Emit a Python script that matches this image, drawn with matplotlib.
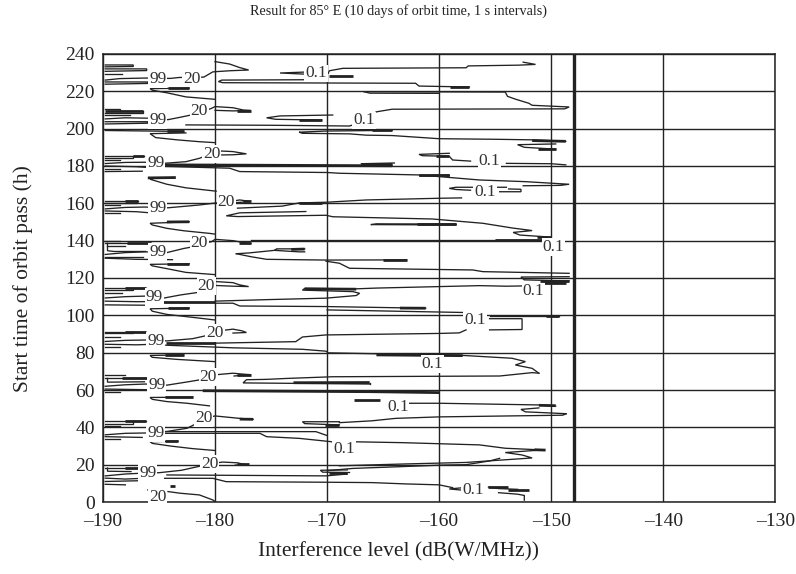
import matplotlib
matplotlib.use("Agg")
import matplotlib.pyplot as plt

plt.rcParams['font.family'] = ['Liberation Serif', 'DejaVu Serif']

# ---------------- data ----------------
x_ticks = [-190, -180, -170, -160, -150, -140, -130]
y_ticks = [0, 20, 40, 60, 80, 100, 120, 140, 160, 180, 200, 220, 240]
limit_x = -148.0

day10 = [
    [(-189.8,234.1),(-187.3,234.1),(-187.3,233.3),(-189.8,233.1)],
    [(-189.8,232.0),(-186.1,232.0),(-186.1,231.1),(-189.8,230.7)],
    [(-189.8,229.4),(-188.3,229.4)],
    [(-189.8,226.0),(-188.5,226.8),(-186.2,227.1),(-184.0,226.9),(-183.2,227.4),(-181.0,227.6),(-180.2,230.4),(-178.7,231.0),(-177.0,231.4),(-177.8,232.7),(-178.7,234.6),(-180.0,235.9)],
    [(-189.8,225.0),(-186.0,225.0),(-186.0,224.2),(-189.8,223.8)],
    [(-182.3,221.7),(-185.8,221.4),(-185.6,220.6),(-184.3,219.2),(-182.6,217.0),(-180.0,215.7)],
    [(-172.0,230.3),(-174.2,229.8),(-172.0,229.2),(-169.9,229.6),(-169.8,231.0),(-168.6,232.3),(-157.6,232.6),(-157.4,233.6),(-152.9,234.0),(-151.4,234.4),(-152.5,235.6)],
    [(-171.5,226.2),(-179.4,226.0),(-179.7,225.2),(-179.3,224.6),(-162.1,224.3),(-161.8,222.8),(-157.3,222.3)],
    [(-166.7,219.8),(-154.1,219.6),(-153.9,217.3),(-153.2,215.8),(-152.0,213.6),(-151.7,212.5),(-148.4,211.6),(-148.8,210.6),(-164.2,210.4),(-165.6,209.0),(-166.6,205.5)],
    [(-166.7,219.8),(-166.2,219.0),(-160.0,218.9)],
]
bold10 = [
    [(-184.2,221.6),(-182.3,221.6)],
    [(-169.8,228.4),(-167.7,228.4)],
    [(-159.0,222.4),(-157.3,222.4)],
]

day9 = [
    [(-189.8,210.3),(-188.5,210.3),(-188.5,209.5)],
    [(-189.8,208.3),(-186.4,208.3),(-186.4,209.2)],
    [(-189.8,207.2),(-187.6,207.2)],
    [(-189.8,205.2),(-188.0,205.8),(-186.0,205.6),(-184.2,204.8),(-183.1,206.1),(-181.9,207.6),(-181.0,209.3),(-180.3,210.9),(-180.0,211.8),(-178.4,211.2),(-177.5,210.0),(-176.8,209.7),(-178.4,209.5),(-180.0,209.8)],
    [(-189.8,203.7),(-186.0,203.7),(-186.0,202.9),(-189.8,202.5)],
    [(-182.6,202.0),(-175.0,201.8),(-168.0,201.4),(-167.2,203.0)],
    [(-169.5,207.3),(-174.2,206.8),(-175.4,205.8),(-174.6,205.0),(-170.5,204.6)],
    [(-189.8,199.0),(-182.8,198.5)],
    [(-182.6,197.7),(-185.8,197.3),(-185.3,195.2),(-183.4,194.0),(-181.4,193.0),(-180.0,192.5)],
    [(-164.2,199.1),(-170.1,198.7),(-172.5,198.1),(-172.2,197.5),(-168.0,197.2),(-166.5,196.5),(-164.2,196.3),(-160.0,194.6),(-155.0,194.3),(-151.7,194.0),(-148.7,193.2)],
    [(-149.6,191.8),(-153.0,191.4),(-152.4,190.0),(-149.6,189.0)],
]
bold9 = [
    [(-189.8,209.2),(-186.4,209.2)],
    [(-178.0,209.6),(-176.8,209.6)],
    [(-172.5,204.8),(-170.5,204.8)],
    [(-184.3,198.5),(-182.8,198.5)],
    [(-166.0,199.1),(-164.2,199.1)],
    [(-151.7,193.6),(-148.7,193.2)],
    [(-151.2,189.0),(-149.6,189.0)],
]

day8 = [
    [(-189.8,185.4),(-186.3,185.4)],
    [(-189.8,184.4),(-187.3,184.4),(-187.3,185.4)],
    [(-189.8,183.0),(-188.5,183.0)],
    [(-189.8,181.3),(-188.0,181.9),(-186.3,182.0),(-184.6,181.4),(-182.6,182.3),(-181.4,184.1),(-180.6,186.0),(-179.4,188.0),(-178.4,187.7),(-177.2,186.5),(-178.4,186.0),(-179.4,185.9)],
    [(-189.8,180.0),(-187.0,179.6),(-186.0,179.2)],
    [(-189.8,178.5),(-188.5,178.5)],
    [(-189.8,177.0),(-186.5,177.2)],
    [(-164.2,180.4),(-167.0,181.2),(-164.0,181.6)],
    [(-184.6,179.8),(-178.7,178.8),(-177.8,177.0),(-170.0,176.5),(-168.9,176.1),(-161.8,175.2),(-156.4,172.5),(-152.3,171.6),(-148.4,170.2),(-149.2,169.6),(-152.5,169.4)],
    [(-159.1,174.6),(-161.8,174.8),(-159.1,175.2)],
    [(-159.1,186.8),(-161.8,186.2),(-161.5,185.5),(-159.1,185.2),(-158.8,183.2),(-157.2,182.6)],
    [(-154.0,181.4),(-150.0,181.2),(-148.7,180.6)],
    [(-154.0,168.6),(-158.5,168.6),(-159.1,168.0),(-158.5,167.4),(-157.2,167.0)],
    [(-154.6,166.2),(-152.7,166.2),(-152.7,167.5),(-153.8,167.7)],
    [(-185.3,173.6),(-185.8,172.9),(-184.3,170.2),(-182.6,168.3),(-179.9,166.5)],
]
bold8 = [
    [(-187.3,185.4),(-186.3,185.4)],
    [(-184.6,180.6),(-164.2,180.1)],
    [(-167.0,181.3),(-164.2,181.3)],
    [(-161.8,175.0),(-159.1,175.0)],
    [(-160.3,185.2),(-159.1,185.2)],
    [(-186.0,173.6),(-183.5,173.8)],
]

day7 = [
    [(-189.8,161.4),(-186.9,161.4)],
    [(-189.8,160.4),(-187.0,160.4),(-187.0,161.4)],
    [(-189.8,159.0),(-188.5,159.0)],
    [(-189.8,157.0),(-188.0,157.8),(-186.3,158.0),(-184.2,157.6),(-181.4,159.1),(-180.2,160.0),(-179.0,160.6),(-177.8,161.8),(-177.2,161.3),(-176.8,160.9),(-177.8,160.5),(-178.3,160.3)],
    [(-189.8,155.9),(-187.0,155.5),(-186.0,155.0)],
    [(-189.8,154.6),(-188.5,154.6)],
    [(-178.0,157.4),(-174.0,158.5),(-172.5,160.2),(-170.0,160.6),(-166.5,161.8),(-160.0,162.7),(-158.0,162.9)],
    [(-171.9,155.6),(-177.8,154.9),(-179.0,153.3),(-178.0,152.9),(-170.1,153.6),(-169.5,152.8),(-160.6,151.6),(-156.1,149.3),(-153.5,146.8),(-151.7,145.4),(-153.4,144.4),(-152.8,143.0),(-150.3,142.0)],
    [(-158.5,148.4),(-166.1,148.6),(-165.6,149.0),(-158.5,148.9)],
    [(-182.3,150.1),(-185.8,149.3),(-185.6,148.4),(-184.3,146.6),(-182.8,145.3),(-180.5,143.9),(-180.0,143.5)],
]
bold7 = [
    [(-188.0,161.4),(-186.9,161.4)],
    [(-177.5,161.0),(-176.8,161.0)],
    [(-172.5,160.4),(-170.5,160.4)],
    [(-151.3,142.0),(-150.0,142.0)],
    [(-162.0,148.7),(-158.5,148.7)],
    [(-184.3,150.0),(-182.3,150.1)],
]

day6 = [
    [(-189.8,140.0),(-188.5,140.0)],
    [(-189.8,138.6),(-185.7,138.6)],
    [(-189.6,138.6),(-189.6,134.6),(-189.0,134.2),(-186.2,134.2)],
    [(-189.6,137.2),(-188.0,137.2)],
    [(-189.8,132.6),(-188.0,133.6),(-186.2,134.0),(-184.3,133.6),(-182.8,135.8),(-181.9,136.8),(-181.0,138.5),(-180.3,139.5),(-180.0,140.7),(-178.4,140.0),(-177.2,138.7),(-176.8,138.5)],
    [(-189.8,131.5),(-186.4,131.5)],
    [(-189.8,130.6),(-187.0,130.0),(-183.8,129.8)],
    [(-176.8,140.4),(-150.8,140.4)],
    [(-172.0,135.6),(-174.5,135.6),(-174.7,134.8),(-172.5,134.0),(-172.0,134.0)],
    [(-178.1,133.0),(-176.8,131.4),(-175.4,130.0),(-170.1,129.6),(-162.9,129.7)],
    [(-178.1,133.0),(-177.0,133.4),(-174.7,134.8)],
    [(-170.1,129.0),(-168.9,127.9),(-168.0,125.2),(-157.0,124.3),(-156.1,123.4),(-148.4,122.5)],
    [(-148.4,120.7),(-152.7,120.5),(-152.4,119.0),(-148.4,118.4)],
    [(-182.3,127.6),(-185.8,127.3),(-185.6,126.5),(-184.3,125.0),(-182.6,123.0),(-180.0,121.8)],
]
bold6 = [
    [(-187.9,138.6),(-185.7,138.6)],
    [(-177.9,138.5),(-176.8,138.5)],
    [(-155.0,140.3),(-150.8,140.3)],
    [(-173.2,135.3),(-172.0,135.5)],
    [(-165.0,129.7),(-162.9,129.7)],
    [(-151.0,118.4),(-148.4,118.4)],
    [(-184.3,127.6),(-182.3,127.6)],
]

day5 = [
    [(-189.8,114.5),(-186.2,114.5)],
    [(-189.8,113.4),(-187.3,113.4),(-187.3,114.5)],
    [(-189.8,111.8),(-188.3,111.8)],
    [(-189.8,109.3),(-188.0,110.0),(-186.2,110.3),(-184.7,109.1),(-183.1,110.9),(-181.6,112.2),(-180.8,115.4),(-180.0,118.1),(-178.4,117.5),(-177.8,116.3),(-177.0,115.4),(-178.4,115.6),(-180.0,116.0)],
    [(-189.8,107.6),(-187.0,107.3),(-185.0,107.4)],
    [(-180.0,107.6),(-175.4,108.4),(-170.1,109.2),(-167.4,110.6),(-167.1,111.8),(-167.7,112.7),(-172.2,113.5),(-172.0,114.4),(-167.4,114.2),(-165.6,114.6),(-156.4,115.9),(-154.0,115.6),(-151.9,115.8)],
    [(-180.0,106.5),(-178.4,106.5),(-177.8,105.0),(-170.1,104.7),(-161.2,103.8)],
    [(-170.0,102.9),(-157.6,101.5),(-157.2,99.6)],
    [(-155.5,99.7),(-149.3,99.7)],
    [(-155.5,98.2),(-152.6,98.2),(-152.6,92.4),(-155.5,92.2)],
    [(-189.8,105.6),(-186.0,105.4)],
    [(-182.3,103.9),(-185.8,103.5),(-185.6,102.2),(-184.3,100.5),(-181.4,98.5),(-180.0,97.5)],
]
bold5 = [
    [(-188.0,114.5),(-186.2,114.5)],
    [(-185.0,107.4),(-180.0,107.4)],
    [(-172.0,114.2),(-167.4,114.0)],
    [(-163.5,103.9),(-161.2,103.8)],
    [(-150.5,99.8),(-149.3,99.8)],
    [(-184.2,103.9),(-182.3,103.9)],
    [(-150.6,117.1),(-148.7,117.1)],
]

day4 = [
    [(-189.8,91.3),(-186.2,91.3)],
    [(-189.8,90.3),(-187.3,90.3),(-187.3,91.3)],
    [(-189.8,88.6),(-188.5,88.6)],
    [(-189.8,86.0),(-188.0,86.6),(-186.0,86.8),(-184.3,86.3),(-182.0,87.5),(-180.5,89.5),(-179.6,91.7),(-178.4,92.6),(-177.6,91.7),(-177.2,90.8),(-178.4,90.5)],
    [(-189.8,84.5),(-187.0,84.2),(-185.0,84.6)],
    [(-189.8,83.0),(-188.5,83.0)],
    [(-180.0,85.1),(-172.8,85.9),(-172.2,88.4),(-170.1,89.5),(-160.0,90.3),(-158.2,90.6),(-157.6,92.2)],
    [(-184.4,84.0),(-178.4,82.6),(-172.2,81.8),(-170.1,80.8),(-169.9,79.9),(-165.5,79.4),(-160.0,79.0),(-158.1,78.6),(-153.5,77.0),(-152.3,75.2),(-153.2,73.4),(-151.7,71.6),(-151.1,69.0)],
    [(-182.8,78.8),(-185.8,78.5),(-185.6,77.5),(-183.4,76.4),(-180.0,75.2)],
]
bold4 = [
    [(-188.0,91.3),(-186.2,91.3)],
    [(-184.4,85.0),(-180.0,85.0)],
    [(-165.6,78.8),(-157.9,78.4)],
    [(-184.5,78.8),(-182.8,78.8)],
]

day3 = [
    [(-189.8,68.0),(-188.0,68.0)],
    [(-189.8,66.2),(-185.9,66.2)],
    [(-189.6,66.2),(-189.6,64.2),(-186.3,64.4)],
    [(-189.8,62.0),(-188.0,62.8),(-186.2,63.2),(-184.3,62.6),(-182.4,64.4),(-181.5,65.3),(-180.6,67.0),(-179.7,68.3),(-178.4,69.0),(-177.5,68.5),(-176.8,68.2),(-178.3,67.5)],
    [(-189.8,60.5),(-186.5,60.2),(-184.5,60.0)],
    [(-189.8,59.0),(-188.5,59.0)],
    [(-166.2,63.2),(-177.5,63.8),(-177.2,65.5),(-175.4,65.7),(-173.6,66.2),(-169.5,67.1),(-154.6,67.5),(-151.7,69.3),(-151.1,69.0)],
    [(-166.2,63.2),(-166.2,64.0)],
    [(-182.0,56.2),(-185.8,56.0),(-185.6,55.0),(-184.3,53.8),(-182.5,52.9),(-180.5,51.5)],
    [(-163.0,52.9),(-160.0,52.9),(-151.1,52.0),(-149.6,51.4)],
    [(-151.1,50.4),(-152.7,49.6),(-152.3,48.3),(-148.6,47.3),(-149.0,46.5),(-160.0,45.6),(-163.9,44.8),(-166.0,43.5),(-168.9,42.5)],
]
bold3 = [
    [(-188.3,66.2),(-185.9,66.2)],
    [(-178.0,67.8),(-176.8,67.8)],
    [(-181.1,59.6),(-166.0,59.1),(-160.0,58.6)],
    [(-173.0,63.9),(-166.2,64.0)],
    [(-184.5,56.2),(-182.0,56.2)],
    [(-167.6,54.6),(-165.3,54.6)],
    [(-151.1,51.8),(-149.6,51.6)],
]

day2 = [
    [(-189.8,43.2),(-186.2,43.2)],
    [(-189.8,42.0),(-187.3,42.0),(-187.3,43.2)],
    [(-189.8,40.5),(-188.5,40.5)],
    [(-189.8,36.0),(-188.0,36.8),(-186.0,37.0),(-184.3,37.8),(-182.5,39.5),(-181.5,42.5),(-181.0,44.8),(-180.0,46.1),(-177.8,44.8),(-176.6,44.3)],
    [(-189.8,35.0),(-186.5,34.6)],
    [(-189.8,33.6),(-188.5,33.6)],
    [(-184.5,37.7),(-171.0,37.7),(-170.0,35.6)],
    [(-184.5,36.8),(-176.0,36.8),(-175.4,35.0),(-172.5,34.1),(-169.6,32.3),(-169.0,30.5)],
    [(-168.9,43.0),(-172.2,43.0),(-172.0,42.0),(-168.9,41.3)],
    [(-167.9,32.3),(-163.3,31.8),(-156.4,30.6),(-154.1,28.8),(-150.8,27.9),(-154.1,26.5),(-152.6,25.2),(-151.7,23.6),(-157.6,21.2),(-163.0,20.4),(-168.9,19.4)],
    [(-183.3,32.6),(-185.8,32.3),(-185.6,31.4),(-184.0,30.0),(-182.0,28.6),(-180.0,27.6)],
]
bold2 = [
    [(-188.0,43.2),(-186.2,43.2)],
    [(-177.8,44.4),(-176.6,44.3)],
    [(-170.2,41.3),(-168.9,41.3)],
    [(-151.5,28.0),(-150.5,27.8)],
    [(-184.5,32.6),(-183.3,32.6)],
]

day1 = [
    [(-189.8,18.2),(-186.5,18.2)],
    [(-189.6,18.2),(-189.6,16.5),(-187.5,16.3)],
    [(-189.8,14.0),(-188.0,15.0),(-186.7,15.4),(-185.0,15.7),(-183.0,17.0),(-181.5,19.0),(-180.5,20.5),(-179.3,21.4),(-178.0,21.0),(-177.3,20.0),(-178.2,19.8)],
    [(-189.8,12.8),(-188.0,12.3),(-186.0,12.8)],
    [(-189.8,11.0),(-186.0,11.5),(-185.5,11.8)],
    [(-189.8,9.5),(-188.0,9.2)],
    [(-168.2,17.2),(-170.6,17.0),(-170.4,16.0),(-168.0,15.8)],
    [(-170.0,16.8),(-167.7,18.0),(-163.6,18.9),(-159.7,19.8),(-157.6,20.0),(-155.5,22.0),(-154.6,23.4)],
    [(-184.3,14.5),(-170.1,14.0),(-168.2,15.0)],
    [(-184.5,12.7),(-180.2,12.7),(-179.0,10.9),(-170.1,10.6),(-166.0,10.4),(-163.0,9.7),(-160.0,9.2),(-158.8,7.7)],
    [(-158.0,7.6),(-159.1,7.0),(-158.0,6.4)],
    [(-155.6,8.0),(-154.7,7.2),(-153.0,6.8)],
    [(-154.7,5.0),(-153.0,4.2),(-152.4,3.5),(-152.4,1.0)],
    [(-184.2,5.6),(-183.1,4.7),(-181.4,3.8),(-180.2,1.1),(-180.0,0.3)],
    [(-186.0,6.5),(-185.5,6.2)],
]
bold1 = [
    [(-188.0,18.2),(-186.5,18.2)],
    [(-178.0,20.3),(-177.0,20.3)],
    [(-169.8,15.8),(-168.2,15.8)],
    [(-155.6,8.3),(-153.9,8.3)],
    [(-153.9,6.5),(-152.0,6.5)],
    [(-184.0,8.6),(-183.6,8.6)],
]

labels_99 = [(-185.1,226.5), (-185.1,204.7), (-185.3,181.4), (-185.1,157.3), (-185.1,133.8),
             (-185.4,109.8), (-185.3,86.2), (-185.2,62.7), (-185.3,36.8), (-186.0,15.4)]
labels_20 = [(-182.1,226.8), (-181.4,209.3), (-180.3,186.4), (-179.0,160.6), (-181.4,138.5),
             (-180.8,115.6), (-180.0,90.6), (-180.6,67.0), (-181.0,44.8), (-180.5,20.4), (-185.1,2.6)]
labels_01 = [(-171.0,229.6), (-166.7,204.4), (-155.5,182.9), (-155.9,166.3), (-149.8,136.7),
             (-151.6,112.8), (-156.8,97.3), (-160.6,74.0), (-163.7,51.1), (-168.5,28.2), (-157.0,6.3)]

thin_days = [day10, day9, day8, day7, day6, day5, day4, day3, day2, day1]
bold_days = [bold10, bold9, bold8, bold7, bold6, bold5, bold4, bold3, bold2, bold1]

# ---------------- figure ----------------
fig = plt.figure(figsize=(7.96, 5.74), dpi=100)
ax = fig.add_axes([0.1294, 0.1254, 0.8446, 0.7806])
ax.set_xlim(x_ticks[0], x_ticks[-1])
ax.set_ylim(y_ticks[0], y_ticks[-1])
ax.set_xticks(x_ticks)
ax.set_yticks(y_ticks)
ax.set_xticklabels([f"\u2013{abs(v)}" for v in x_ticks])
ax.tick_params(length=0, labelsize=14, colors='#222222')
ax.tick_params(axis='x', pad=8)
ax.tick_params(axis='y', pad=6)
ax.grid(True, color='#222222', lw=1.0)
ax.set_axisbelow(True)
ax.axvline(limit_x, color='#222222', lw=2.4, zorder=1)
for s in ax.spines.values():
    s.set_linewidth(1.1)
    s.set_color('#222222')

line_col = '#222222'
for day in thin_days:
    for path in day:
        xs = [p[0] for p in path]
        ys = [p[1] for p in path]
        ax.plot(xs, ys, color=line_col, lw=0.95, zorder=2, solid_joinstyle='miter')
for day in bold_days:
    for path in day:
        xs = [p[0] for p in path]
        ys = [p[1] for p in path]
        ax.plot(xs, ys, color=line_col, lw=2.0, zorder=2, solid_capstyle='butt')

bbox = dict(boxstyle='square,pad=0.05', fc='white', ec='none')
for txt, pts in (("99", labels_99), ("20", labels_20), ("0.1", labels_01)):
    for (x, y) in pts:
        ax.text(x, y, txt, ha='center', va='center', fontsize=12.5,
                color='#333333', bbox=bbox, zorder=3)

fig.text(0.5, 0.981, "Result for 85\u00b0 E (10 days of orbit time, 1 s intervals)",
         ha='center', va='center', fontsize=10.2, color='#222222')
fig.text(0.5, 0.022, "Interference level (dB(W/MHz))", ha='center', va='bottom',
         fontsize=15.5, color='#222222')
fig.text(0.016, 0.515, "Start time of orbit pass (h)", ha='left', va='center',
         rotation=90, fontsize=15.5, color='#222222')

fig.savefig("out.png", dpi=100)
